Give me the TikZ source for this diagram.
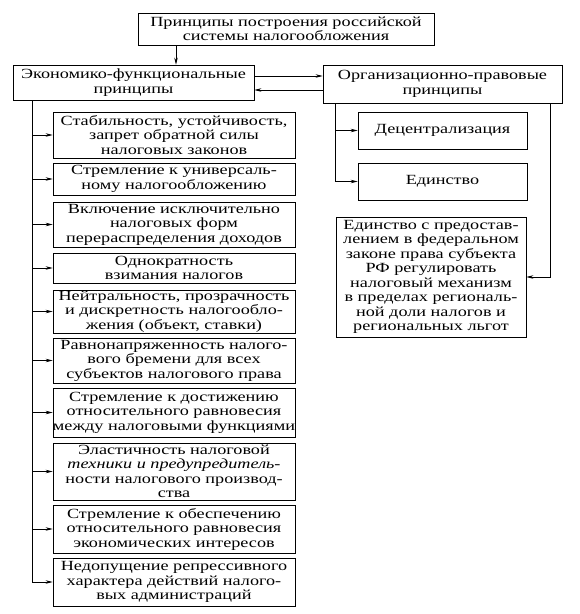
\documentclass[tikz,border=0pt]{standalone}
\usepackage{fontspec}
\setmainfont{Liberation Serif}[FakeStretch=1.3]
\usetikzlibrary{arrows.meta}
\newcommand\boxfont{\fontsize{14}{14.5}\selectfont}
\begin{document}
\begin{tikzpicture}[x=1pt,y=-1pt,
  box/.style={draw, line width=0.7pt, align=center, inner sep=0pt, font=\boxfont},
  lbox/.style={box, minimum width=242},
  arr/.style={-{Stealth[length=7pt,width=3.5pt]}, line width=0.6pt},
  ln/.style={line width=0.6pt}]
\useasboundingbox (0,0) rectangle (580,614);

\node[box, minimum width=296, minimum height=32] (top) at (286,29)
  {Принципы построения российской\\системы налогообложения};
\node[box, minimum width=241, minimum height=35] (L) at (133.5,82.5)
  {Экономико-функциональные\\принципы};
\node[box, minimum width=239, minimum height=38] (R) at (442.5,84)
  {Организационно-правовые\\принципы};

\coordinate (ta) at (176,45);
\draw[arr] (top.south -| ta) -- (L.north -| ta);
\coordinate (ya) at (0,76);
\coordinate (yb) at (0,90);
\draw[arr] (L.east |- ya) -- (R.west |- ya);
\draw[arr] (R.west |- yb) -- (L.east |- yb);

% left column
\node[lbox, minimum height=46] (b1) at (174,135)
  {Стабильность, устойчивость,\\запрет обратной силы\\налоговых законов};
\node[lbox, minimum height=32] (b2) at (174,179)
  {Стремление к универсаль-\\ному налогообложению};
\node[lbox, minimum height=45] (b3) at (174,224.5)
  {Включение исключительно\\налоговых форм\\перераспределения доходов};
\node[lbox, minimum height=30] (b4) at (174,268)
  {Однократность\\взимания налогов};
\node[lbox, minimum height=43] (b5) at (174,311.5)
  {Нейтральность, прозрачность\\и дискретность налогообло-\\жения (объект, ставки)};
\node[lbox, minimum height=45] (b6) at (174,360.5)
  {Равнонапряженность налого-\\вого бремени для всех\\субъектов налогового права};
\node[lbox, minimum height=49] (b7) at (174,412.5)
  {Стремление к достижению\\относительного равновесия\\между налоговыми функциями};
\node[lbox, minimum height=57] (b8) at (174,471.5)
  {Эластичность налоговой\\\textit{техники и предупредитель-}\\ности налогового производ-\\ства};
\node[lbox, minimum height=48] (b9) at (174,529)
  {Стремление к обеспечению\\относительного равновесия\\экономических интересов};
\node[lbox, minimum height=48] (b10) at (174,582)
  {Недопущение репрессивного\\характера действий налого-\\вых администраций};

\coordinate (ltop) at (32,100);
\draw[ln] (ltop) -- (ltop |- b10.west);
\foreach \b in {b1,b2,b3,b4,b5,b6,b7,b8,b9,b10}
  \draw[arr] (ltop |- \b.west) -- (\b.west);

% right column
\node[box, minimum width=169, minimum height=37] (D) at (442.5,130.5) {Децентрализация};
\node[box, minimum width=169, minimum height=37] (E) at (442.5,181.5) {Единство};
\node[box, minimum width=190, minimum height=120] (F) at (431,277)
  {Единство с предостав-\\лением в федеральном\\законе права субъекта\\РФ регулировать\\налоговый механизм\\в пределах региональ-\\ной доли налогов и\\региональных льгот};

\coordinate (rt) at (335,103);
\draw[ln] (rt) -- (rt |- E.west);
\draw[arr] (rt |- D.west) -- (D.west);
\draw[arr] (rt |- E.west) -- (E.west);
\coordinate (rr) at (550,103);
\draw[arr] (rr) -- (rr |- F.east) -- (F.east);
\end{tikzpicture}
\end{document}
